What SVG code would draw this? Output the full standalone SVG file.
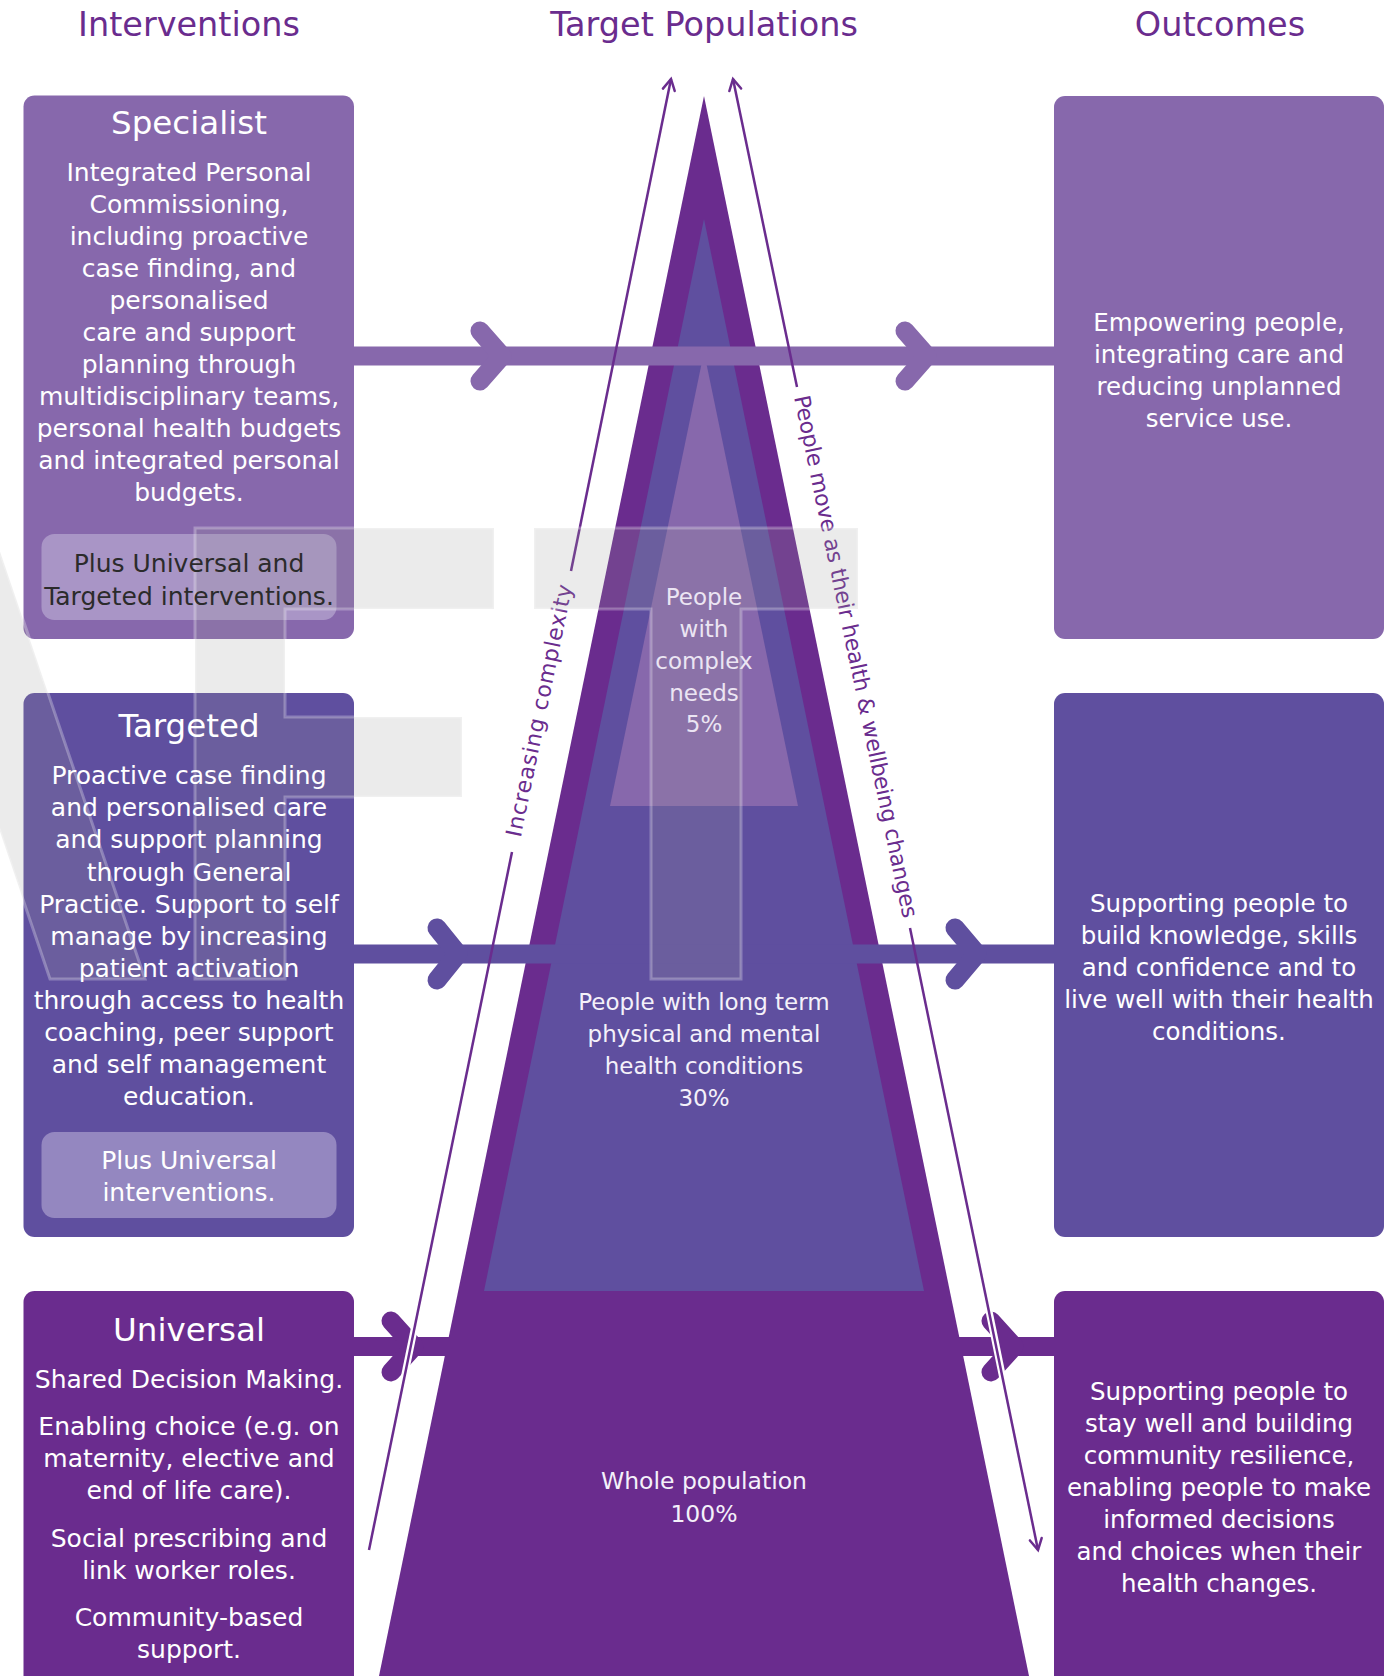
<svg xmlns="http://www.w3.org/2000/svg" width="1399" height="1676" viewBox="0 0 1399 1676">
<style>
  text{font-family:"DejaVu Sans","Liberation Sans",sans-serif;text-anchor:middle}
  .hdr{font-size:33.5px;fill:#6A2C8E}
  .ttl{font-size:32.5px;fill:#ffffff}
  .body{font-size:25px;fill:#ffffff}
  .dark{font-size:25px;fill:#2b2b2b}
  .out{font-size:24.5px;fill:#ffffff}
  .pyr{font-size:23px;fill:#f4f1fa}
  .pyr2{font-size:23px;fill:#ebe5f3}
  .side{font-size:22px;fill:#6A2C8E}
  .thin{fill:none;stroke:#6A2C8E;stroke-width:2.5}
  .case{fill:none;stroke:#ffffff;stroke-width:7}
  .chev{fill:none;stroke-width:19;stroke-linecap:round;stroke-linejoin:round}
</style>
<defs>
  <marker id="ah" viewBox="0 0 14 14" markerWidth="14" markerHeight="14" refX="12.5" refY="7" orient="auto" markerUnits="userSpaceOnUse" overflow="visible">
    <path d="M1.5,1 L12.5,7 L1.5,13" fill="none" stroke="#6A2C8E" stroke-width="2.5" stroke-linecap="round"/>
  </marker>
</defs>
<rect x="0" y="0" width="1399" height="1676" fill="#ffffff"/>

<g id="headers">
  <text class="hdr" x="189" y="35.5">Interventions</text>
  <text class="hdr" x="704" y="35.5">Target Populations</text>
  <text class="hdr" x="1220" y="35.5">Outcomes</text>
</g>

<g id="pyramid">
  <polygon points="704,96 1029,1676 379,1676" fill="#6A2C8E"/>
  <polygon points="704,219 924,1291 484,1291" fill="#5F4F9F"/>
  <polygon points="704,352 798,806 610,806" fill="#8768AC"/>
</g>

<g id="specialist-box">
  <rect x="23.5" y="95.5" width="330.5" height="543.5" rx="11" fill="#8768AC"/>
  <rect x="41.5" y="534" width="295" height="86" rx="13" fill="#A995C6"/>
</g>
<g id="targeted-box">
  <rect x="23.5" y="693" width="330.5" height="544" rx="11" fill="#5F4F9F"/>
  <rect x="41.5" y="1132" width="295" height="86" rx="13" fill="#9487C0"/>
</g>
<g id="universal-box">
  <rect x="23.5" y="1291" width="330.5" height="400" rx="11" fill="#6A2C8E"/>
</g>
<g id="outcome-1">
  <rect x="1054" y="96" width="330" height="543" rx="11" fill="#8768AC"/>
</g>
<g id="outcome-2">
  <rect x="1054" y="693" width="330" height="544" rx="11" fill="#5F4F9F"/>
</g>
<g id="outcome-3">
  <rect x="1054" y="1291" width="330" height="400" rx="11" fill="#6A2C8E"/>
</g>

<g id="connectors">
  <rect x="354" y="346.5" width="700" height="19" fill="#8768AC"/>
  <polyline class="chev" stroke="#8768AC" points="480,331 502,356 480,381"/>
  <polyline class="chev" stroke="#8768AC" points="905,331 927,356 905,381"/>
  <rect x="354" y="944.5" width="700" height="19" fill="#5F4F9F"/>
  <polyline class="chev" stroke="#5F4F9F" points="437,928 458,954 437,980"/>
  <polyline class="chev" stroke="#5F4F9F" points="955,928 977,954 955,980"/>
  <rect x="354" y="1337" width="700" height="19" fill="#6A2C8E"/>
  <polyline class="chev" stroke="#6A2C8E" points="391,1321 414,1346.5 391,1372"/>
  <polyline class="chev" stroke="#6A2C8E" points="991,1321 1014,1346.5 991,1372"/>
  <line class="case" x1="398" y1="1408" x2="428" y2="1262"/>
  <line class="case" x1="974" y1="1238" x2="1004" y2="1384"/>
  <line class="thin" x1="571" y1="571" x2="671" y2="79" marker-end="url(#ah)"/>
  <line class="thin" x1="369" y1="1550" x2="512" y2="852"/>
  <line class="thin" x1="797" y1="387" x2="733" y2="79" marker-end="url(#ah)"/>
  <line class="thin" x1="910" y1="928" x2="1038" y2="1550" marker-end="url(#ah)"/>
  <text class="side" transform="translate(546.5,712) rotate(-78.4)" textLength="257">Increasing complexity</text>
  <text class="side" transform="translate(848.5,658) rotate(78.2)" textLength="533">People move as their health &amp; wellbeing changes</text>
</g>

<g id="watermark" fill="#9a9a9a" fill-opacity="0.2" stroke="#ffffff" stroke-opacity="0.28" stroke-width="3">
  <polygon points="-8,528 145,979 50,979 -103,528"/>
  <polygon points="195,528 494,528 494,609 285,609 285,717 462,717 462,797 285,797 285,979 195,979"/>
  <polygon points="534,528 858,528 858,609 741,609 741,979 651,979 651,609 534,609"/>
</g>

<g id="specialist-text">
  <text class="ttl" x="189" y="134">Specialist</text>
  <text class="body"><tspan x="189" y="180.6">Integrated Personal</tspan><tspan x="189" y="212.7">Commissioning,</tspan><tspan x="189" y="244.7">including proactive</tspan><tspan x="189" y="276.8">case finding, and</tspan><tspan x="189" y="308.9">personalised</tspan><tspan x="189" y="341">care and support</tspan><tspan x="189" y="373">planning through</tspan><tspan x="189" y="405.1">multidisciplinary teams,</tspan><tspan x="189" y="437.2">personal health budgets</tspan><tspan x="189" y="469.2">and integrated personal</tspan><tspan x="189" y="501.3">budgets.</tspan></text>
  <text class="dark"><tspan x="189" y="572">Plus Universal and</tspan><tspan x="189" y="604.5">Targeted interventions.</tspan></text>
</g>

<g id="targeted-text">
  <text class="ttl" x="189" y="737">Targeted</text>
  <text class="body"><tspan x="189" y="784.3">Proactive case finding</tspan><tspan x="189" y="816.4">and personalised care</tspan><tspan x="189" y="848.4">and support planning</tspan><tspan x="189" y="880.5">through General</tspan><tspan x="189" y="912.6">Practice. Support to self</tspan><tspan x="189" y="944.7">manage by increasing</tspan><tspan x="189" y="976.7">patient activation</tspan><tspan x="189" y="1008.8">through access to health</tspan><tspan x="189" y="1040.9">coaching, peer support</tspan><tspan x="189" y="1072.9">and self management</tspan><tspan x="189" y="1105">education.</tspan></text>
  <text class="body"><tspan x="189" y="1169">Plus Universal</tspan><tspan x="189" y="1201.4">interventions.</tspan></text>
</g>

<g id="universal-text">
  <text class="ttl" x="189" y="1341">Universal</text>
  <text class="body"><tspan x="189" y="1388.3">Shared Decision Making.</tspan><tspan x="189" y="1435">Enabling choice (e.g. on</tspan><tspan x="189" y="1467">maternity, elective and</tspan><tspan x="189" y="1499.3">end of life care).</tspan><tspan x="189" y="1546.5">Social prescribing and</tspan><tspan x="189" y="1578.5">link worker roles.</tspan><tspan x="189" y="1626">Community-based</tspan><tspan x="189" y="1658.3">support.</tspan></text>
</g>

<g id="pyramid-text">
  <text class="pyr2"><tspan x="704" y="605">People</tspan><tspan x="704" y="637">with</tspan><tspan x="704" y="669">complex</tspan><tspan x="704" y="701">needs</tspan><tspan x="704" y="732">5%</tspan></text>
  <text class="pyr"><tspan x="704" y="1009.5">People with long term</tspan><tspan x="704" y="1041.5">physical and mental</tspan><tspan x="704" y="1073.5">health conditions</tspan><tspan x="704" y="1105.5">30%</tspan></text>
  <text class="pyr" style="font-size:23.5px"><tspan x="704" y="1489">Whole population</tspan><tspan x="704" y="1521.5">100%</tspan></text>
</g>

<g id="outcome-text">
  <text class="out"><tspan x="1219" y="330.5">Empowering people,</tspan><tspan x="1219" y="362.5">integrating care and</tspan><tspan x="1219" y="394.5">reducing unplanned</tspan><tspan x="1219" y="426.5">service use.</tspan></text>
  <text class="out"><tspan x="1219" y="912">Supporting people to</tspan><tspan x="1219" y="944">build knowledge, skills</tspan><tspan x="1219" y="976">and confidence and to</tspan><tspan x="1219" y="1008">live well with their health</tspan><tspan x="1219" y="1040">conditions.</tspan></text>
  <text class="out"><tspan x="1219" y="1400">Supporting people to</tspan><tspan x="1219" y="1432">stay well and building</tspan><tspan x="1219" y="1464">community resilience,</tspan><tspan x="1219" y="1496">enabling people to make</tspan><tspan x="1219" y="1528">informed decisions</tspan><tspan x="1219" y="1560">and choices when their</tspan><tspan x="1219" y="1592">health changes.</tspan></text>
</g>
</svg>
